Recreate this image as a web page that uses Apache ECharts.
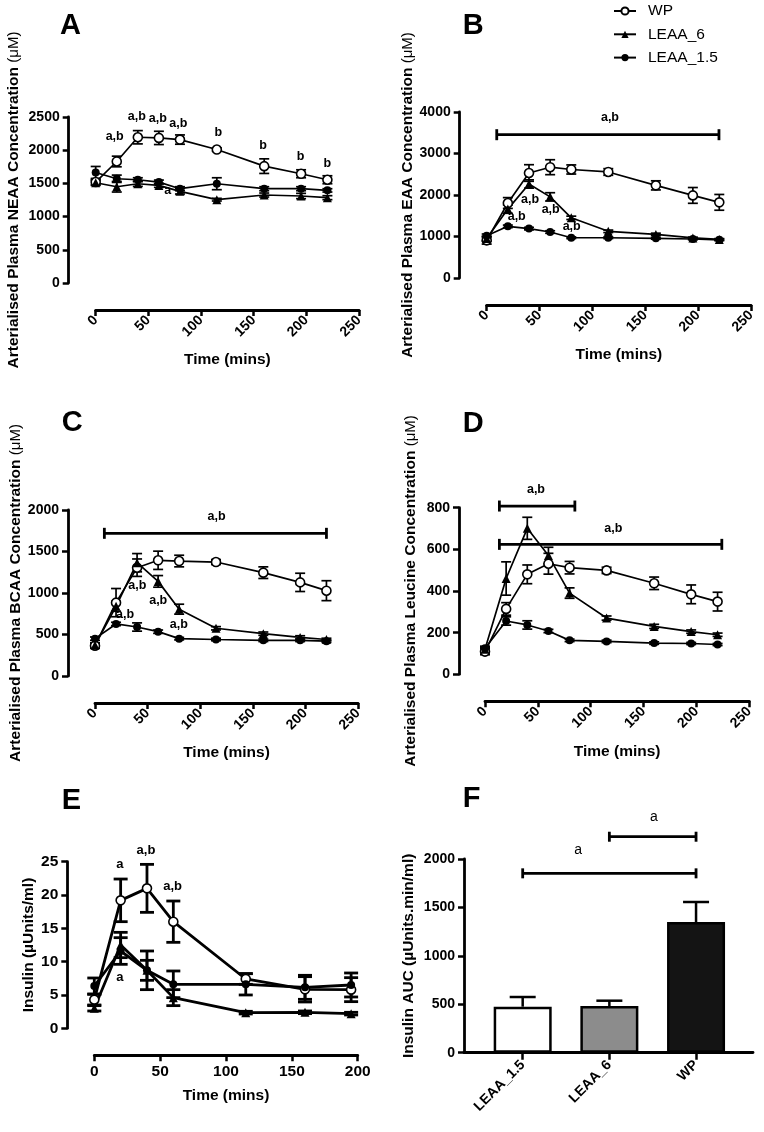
<!DOCTYPE html>
<html><head><meta charset="utf-8">
<script src="https://cdn.jsdelivr.net/npm/echarts@6/dist/echarts.min.js"></script>
<style>html,body{margin:0;padding:0;background:#fff}#c{width:764px;height:1132px}</style>
</head><body><div id="c"></div>
<script>
// ---------- DATA ----------
const timesAD = [0, 20, 40, 60, 80, 115, 160, 195, 220];
const timesE = [0, 20, 40, 60, 115, 160, 195];

// A: NEAA
const neaaWP = [1520, 1830, 2195, 2185, 2160, 2010, 1760, 1645, 1555];
const neaaWPErr = [40, 80, 100, 100, 70, 25, 110, 60, 60];
const neaaL6 = [1510, 1450, 1495, 1470, 1380, 1255, 1325, 1310, 1285];
const neaaL6Err = [40, 80, 40, 30, 40, 20, 30, 40, 30];
const neaaL15 = [1665, 1570, 1555, 1520, 1420, 1495, 1420, 1420, 1395];
const neaaL15Err = [90, 55, 30, 30, 30, 90, 30, 30, 25];
const neaaNotes = [[18, 2200, 'a,b'], [39, 2510, 'a,b'], [59, 2475, 'a,b'], [78.5, 2400, 'a,b'], [116.5, 2260, 'b'], [159, 2073, 'b'], [194.6, 1898, 'b'], [220, 1797, 'b'], [68.4, 1396, 'a']];
const neaaBars = [];

// B: EAA
const eaaWP = [907, 1807, 2530, 2670, 2615, 2555, 2232, 1990, 1823];
const eaaWPErr = [90, 130, 200, 180, 110, 80, 110, 190, 190];
const eaaL6 = [950, 1660, 2265, 1955, 1450, 1125, 1050, 965, 930];
const eaaL6Err = [60, 100, 100, 100, 40, 30, 30, 20, 20];
const eaaL15 = [1020, 1245, 1190, 1108, 970, 970, 955, 940, 920];
const eaaL15Err = [40, 30, 30, 30, 20, 20, 20, 20, 20];
const eaaNotes = [[41, 1887, 'a,b'], [60.5, 1646, 'a,b'], [28.4, 1486, 'a,b'], [80.4, 1245, 'a,b'], [116.6, 3855, 'a,b']];
const eaaBars = [[9.5, 219.7, 3453]];

// C: BCAA
const bcaaWP = [365, 884, 1305, 1394, 1385, 1373, 1245, 1128, 1028];
const bcaaWPErr = [30, 170, 105, 110, 70, 30, 70, 110, 120];
const bcaaL6 = [370, 840, 1365, 1140, 805, 575, 510, 465, 440];
const bcaaL6Err = [30, 60, 110, 70, 60, 20, 20, 20, 15];
const bcaaL15 = [450, 627, 590, 534, 450, 440, 430, 430, 420];
const bcaaL15Err = [20, 20, 50, 20, 15, 15, 15, 15, 15];
const bcaaNotes = [[40.2, 1088, 'a,b'], [60.1, 908, 'a,b'], [28.5, 735, 'a,b'], [79.7, 622, 'a,b'], [115.5, 1920, 'a,b']];
const bcaaBars = [[8.9, 220, 1719]];

// D: Leucine
const leuWP = [109, 314, 480, 531, 512, 499, 437, 384, 349];
const leuWPErr = [15, 30, 45, 50, 30, 15, 30, 45, 45];
const leuL6 = [120, 460, 701, 570, 390, 270, 230, 205, 190];
const leuL6Err = [10, 80, 53, 40, 25, 10, 10, 8, 8];
const leuL15 = [125, 256, 237, 208, 163, 158, 150, 148, 143];
const leuL15Err = [10, 20, 20, 8, 6, 6, 6, 5, 5];
const leuNotes = [[48.2, 885, 'a,b'], [121.4, 698, 'a,b']];
const leuBars = [[13.6, 85, 808], [13.6, 224, 624]];

// E: Insulin
const insWP = [4.3, 19.2, 21.0, 16.0, 7.4, 5.85, 5.8];
const insWPErr = [0.8, 3.2, 3.6, 3.1, 0.8, 1.9, 1.8];
const insL6 = [3.0, 12.5, 8.7, 4.6, 2.35, 2.4, 2.2];
const insL6Err = [0.4, 1.9, 1.5, 1.2, 0.2, 0.2, 0.2];
const insL15 = [6.35, 11.6, 8.7, 6.6, 6.6, 6.15, 6.5];
const insL15Err = [1.2, 2.0, 2.9, 2.0, 1.6, 1.8, 1.8];
const insNotes = [[19.5, 24.6, 'a'], [39.2, 26.75, 'a,b'], [59.5, 21.35, 'a,b'], [19.5, 7.65, 'a']];

// F: Insulin AUC
const aucCats = ['LEAA_1.5', 'LEAA_6', 'WP'];
const aucVals = [475, 482, 1349];
const aucErr = [100, 55, 207];
const aucBars = [[0, 2, 1852], [1, 2, 2230]];
const aucNotes = [[0.64, 2093, 'a'], [1.515, 2430, 'a']];

// ---------- CHART ----------
const FONT = "'Liberation Sans', Arial, Helvetica, sans-serif";
const K = '#000';

const grids = [
  {left: 95.7, top: 117, width: 263.3, height: 166},
  {left: 486.7, top: 112, width: 264.3, height: 166},
  {left: 95, top: 510, width: 263, height: 166},
  {left: 485, top: 507.7, width: 264.3, height: 166.6},
  {left: 94.3, top: 861.7, width: 263.4, height: 166.6},
  {left: 464, top: 859, width: 289, height: 193.7}
];

function yAx(gi, max, interval, name, gap, labelSize, offset) {
  return {
    type: 'value', gridIndex: gi, min: 0, max: max, interval: interval, offset: offset,
    axisLine: {show: true, onZero: false, lineStyle: {color: K, width: 2.8}},
    axisTick: {show: true, length: 6, lineStyle: {color: K, width: 2.5}},
    splitLine: {show: false},
    axisLabel: {color: K, fontFamily: FONT, fontWeight: 'bold', fontSize: labelSize, margin: 9,
      formatter: v => String(v)},
    name: name, nameLocation: 'middle', nameGap: gap,
    nameTextStyle: {color: K, fontFamily: FONT, fontWeight: 'bold', fontSize: 15.5,
      rich: {u: {fontFamily: FONT, fontWeight: 'normal', fontSize: 15, color: K}}}
  };
}
function xAx(gi, max, rotate, gap, labelSize) {
  return {
    type: 'value', gridIndex: gi, min: 0, max: max, interval: 50, offset: 27,
    axisLine: {show: true, onZero: false, lineStyle: {color: K, width: 2.8}},
    axisTick: {show: true, length: 6, lineStyle: {color: K, width: 2.5}},
    splitLine: {show: false},
    axisLabel: {color: K, fontFamily: FONT, fontWeight: 'bold', fontSize: labelSize, rotate: rotate, margin: 8,
      formatter: v => String(v)},
    name: 'Time (mins)', nameLocation: 'middle', nameGap: gap,
    nameTextStyle: {color: K, fontFamily: FONT, fontWeight: 'bold', fontSize: 15.5}
  };
}

const xAxes = [
  xAx(0, 250, 45, 42, 14), xAx(1, 250, 45, 42, 14), xAx(2, 250, 45, 42, 14), xAx(3, 250, 45, 42, 14),
  xAx(4, 200, 0, 32, 15.5),
  {
    type: 'value', gridIndex: 5, min: -0.677, max: 2.657,
    axisLine: {show: true, onZero: false, lineStyle: {color: K, width: 2.8}},
    axisTick: {show: true, length: 7, lineStyle: {color: K, width: 2.5}, customValues: [0, 1, 2]},
    splitLine: {show: false},
    axisLabel: {color: K, fontFamily: FONT, fontWeight: 'bold', fontSize: 14, rotate: 45, margin: 10,
      customValues: [0, 1, 2], formatter: v => aucCats[Math.round(v)]}
  }
];
const yAxes = [
  yAx(0, 2500, 500, 'Arterialised Plasma NEAA Concentration {u|(μM)}', 47, 14, 27),
  yAx(1, 4000, 1000, 'Arterialised Plasma EAA Concentration {u|(μM)}', 41, 14, 27),
  yAx(2, 2000, 500, 'Arterialised Plasma BCAA Concentration {u|(μM)}', 44, 14, 27),
  yAx(3, 800, 200, 'Arterialised Plasma Leucine Concentration {u|(μM)}', 40, 14, 26),
  yAx(4, 25, 5, 'Insulin (µUnits/ml)', 31, 15.5, 27),
  yAx(5, 2000, 500, 'Insulin AUC (µUnits.min/ml)', 47, 14, 0)
];

function errRender(capHalf, lw, upOnly) {
  return function (params, api) {
    const x = api.value(0), y = api.value(1), e = api.value(2);
    const hi = api.coord([x, y + e]);
    const lo = api.coord([x, upOnly ? y : y - e]);
    const st = {stroke: K, lineWidth: lw};
    const ch = [
      {type: 'line', shape: {x1: hi[0], y1: hi[1], x2: lo[0], y2: lo[1]}, style: st},
      {type: 'line', shape: {x1: hi[0] - capHalf, y1: hi[1], x2: hi[0] + capHalf, y2: hi[1]}, style: st}
    ];
    if (!upOnly) ch.push({type: 'line', shape: {x1: lo[0] - capHalf, y1: lo[1], x2: lo[0] + capHalf, y2: lo[1]}, style: st});
    return {type: 'group', children: ch};
  };
}
function barRender(capHalf, lw) {
  return function (params, api) {
    const a = api.coord([api.value(0), api.value(2)]);
    const b = api.coord([api.value(1), api.value(2)]);
    const st = {stroke: K, lineWidth: lw};
    return {type: 'group', children: [
      {type: 'line', shape: {x1: a[0], y1: a[1], x2: b[0], y2: b[1]}, style: st},
      {type: 'line', shape: {x1: a[0], y1: a[1] - capHalf, x2: a[0], y2: a[1] + capHalf}, style: st},
      {type: 'line', shape: {x1: b[0], y1: b[1] - capHalf, x2: b[0], y2: b[1] + capHalf}, style: st}
    ]};
  };
}
function noteRender(notes, size, weight) {
  return function (params, api) {
    const p = api.coord([api.value(0), api.value(1)]);
    return {type: 'text', x: p[0], y: p[1], style: {text: notes[params.dataIndex][2], fill: K,
      font: weight + ' ' + size + 'px ' + FONT, align: 'center', verticalAlign: 'middle'}};
  };
}

const series = [];
const groupStyles = {
  'WP': {symbol: 'circle', size: 9, itemStyle: {color: '#fff', borderColor: K, borderWidth: 1.6}},
  'LEAA_6': {symbol: 'triangle', size: 9, itemStyle: {color: K, borderColor: K, borderWidth: 0}},
  'LEAA_1.5': {symbol: 'circle', size: 8, itemStyle: {color: K, borderColor: K, borderWidth: 0}}
};
function addPanel(gi, times, groups, notes, bars, lw, capHalf, noteSize) {
  groups.forEach(g => {
    series.push({type: 'custom', xAxisIndex: gi, yAxisIndex: gi, z: 2, clip: false,
      renderItem: errRender(capHalf, lw, false), encode: {x: 0, y: 1},
      data: times.map((t, i) => [t, g.v[i], g.e[i]])});
  });
  groups.forEach(g => {
    const s = groupStyles[g.name];
    series.push({type: 'line', name: g.name, xAxisIndex: gi, yAxisIndex: gi, z: 3,
      symbol: s.symbol, symbolSize: s.size, showAllSymbol: true, itemStyle: s.itemStyle,
      lineStyle: {color: K, width: lw},
      data: times.map((t, i) => [t, g.v[i]])});
  });
  if (bars.length) series.push({type: 'custom', xAxisIndex: gi, yAxisIndex: gi, z: 4, clip: false,
    renderItem: barRender(5.5, 2.8), encode: {x: [0, 1], y: 2}, data: bars});
  series.push({type: 'custom', xAxisIndex: gi, yAxisIndex: gi, z: 5, clip: false,
    renderItem: noteRender(notes, noteSize, 'bold'), encode: {x: 0, y: 1},
    data: notes.map(n => [n[0], n[1]])});
}
addPanel(0, timesAD, [
  {name: 'WP', v: neaaWP, e: neaaWPErr}, {name: 'LEAA_6', v: neaaL6, e: neaaL6Err}, {name: 'LEAA_1.5', v: neaaL15, e: neaaL15Err}
], neaaNotes, neaaBars, 1.7, 5, 12.5);
addPanel(1, timesAD, [
  {name: 'WP', v: eaaWP, e: eaaWPErr}, {name: 'LEAA_6', v: eaaL6, e: eaaL6Err}, {name: 'LEAA_1.5', v: eaaL15, e: eaaL15Err}
], eaaNotes, eaaBars, 1.7, 5, 12.5);
addPanel(2, timesAD, [
  {name: 'WP', v: bcaaWP, e: bcaaWPErr}, {name: 'LEAA_6', v: bcaaL6, e: bcaaL6Err}, {name: 'LEAA_1.5', v: bcaaL15, e: bcaaL15Err}
], bcaaNotes, bcaaBars, 1.7, 5, 12.5);
addPanel(3, timesAD, [
  {name: 'WP', v: leuWP, e: leuWPErr}, {name: 'LEAA_6', v: leuL6, e: leuL6Err}, {name: 'LEAA_1.5', v: leuL15, e: leuL15Err}
], leuNotes, leuBars, 1.7, 5, 12.5);
addPanel(4, timesE, [
  {name: 'WP', v: insWP, e: insWPErr}, {name: 'LEAA_6', v: insL6, e: insL6Err}, {name: 'LEAA_1.5', v: insL15, e: insL15Err}
], insNotes, [], 2.8, 7, 13);

// Panel F
const aucFills = ['#ffffff', '#8c8c8c', '#141414'];
series.push({type: 'custom', xAxisIndex: 5, yAxisIndex: 5, z: 1, clip: false,
  renderItem: errRender(13, 2.5, true), encode: {x: 0, y: 1},
  data: aucVals.map((v, i) => [i, v, aucErr[i]])});
series.push({type: 'bar', xAxisIndex: 5, yAxisIndex: 5, z: 2, barWidth: 58,
  data: aucVals.map((v, i) => ({value: [i, v], itemStyle: {color: aucFills[i], borderColor: K, borderWidth: 2.5}}))});
series.push({type: 'custom', xAxisIndex: 5, yAxisIndex: 5, z: 4, clip: false,
  renderItem: barRender(5, 2.8), encode: {x: [0, 1], y: 2}, data: aucBars});
series.push({type: 'custom', xAxisIndex: 5, yAxisIndex: 5, z: 5, clip: false,
  renderItem: noteRender(aucNotes, 14, 'normal'), encode: {x: 0, y: 1},
  data: aucNotes.map(n => [n[0], n[1]])});

const panelLetters = [['A', 60, 11], ['B', 462.7, 11.5], ['C', 61.7, 408], ['D', 462.7, 409], ['E', 61.7, 786], ['F', 462.7, 784.5]];

const chart = echarts.init(document.getElementById('c'), null, {renderer: 'canvas'});
chart.setOption({
  animation: false,
  backgroundColor: '#fff',
  title: panelLetters.map(p => ({text: p[0], left: p[1], top: p[2], padding: 0,
    textStyle: {fontFamily: FONT, fontWeight: 'bold', fontSize: 29, color: K}})),
  legend: {orient: 'vertical', left: 613, top: 3, padding: 0, itemWidth: 22, itemHeight: 9, itemGap: 7.3,
    data: ['WP', 'LEAA_6', 'LEAA_1.5'],
    textStyle: {fontFamily: FONT, fontSize: 15.5, color: K, padding: [0, 0, 0, 7]}},
  grid: grids,
  xAxis: xAxes,
  yAxis: yAxes,
  series: series
});
</script>
</body></html>
